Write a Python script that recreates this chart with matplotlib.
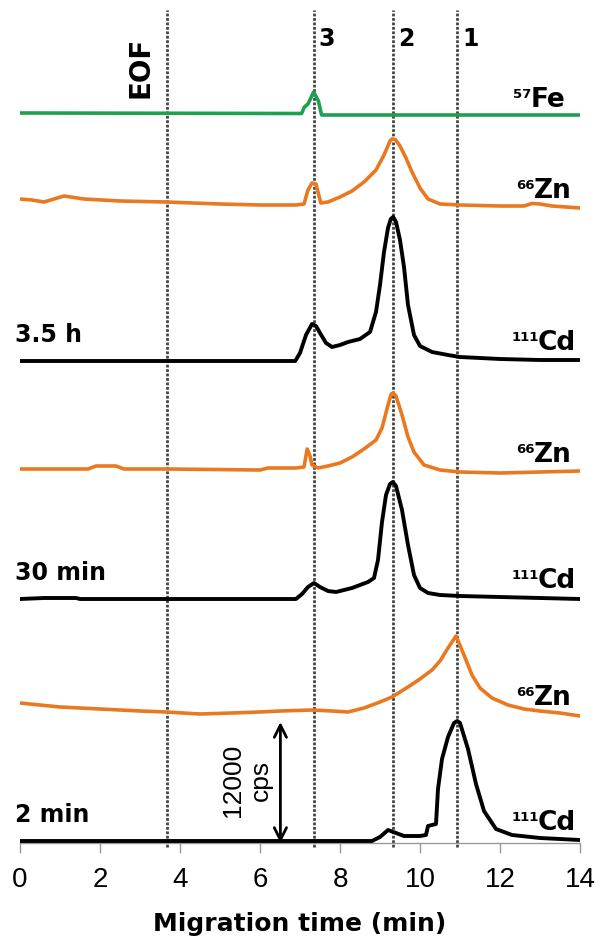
import matplotlib
matplotlib.use("Agg")
import matplotlib.pyplot as plt

# traces: migration time (min) and signal above own baseline (cps)
fe57_t = [0, 7.04, 7.11, 7.2, 7.34, 7.46, 7.54, 14]
fe57_cps = [0, -50, 600, 900, 2100, 1200, -200, -200]

zn_35h_t = [0, 0.3, 0.6, 1.1, 1.6, 2.5, 3.65, 5, 6, 6.9, 7.1, 7.2, 7.3, 7.4, 7.52, 7.7, 8.0,
            8.3, 8.6, 8.9, 9.1, 9.25, 9.3, 9.38, 9.5, 9.65, 9.8, 10.0, 10.2, 10.5, 11, 12,
            12.6, 12.8, 13.0, 13.3, 14]
zn_35h_cps = [600, 500, 300, 900, 600, 400, 300, 100, 0, 0, 100, 1500, 2200, 2100, 200, 300,
              800, 1400, 2300, 3500, 5000, 6400, 6600, 6550, 5900, 4700, 3300, 1700, 600, 100,
              0, -100, -100, 150, 100, -100, -300]

cd_35h_t = [0, 6.88, 7.0, 7.15, 7.3, 7.4, 7.5, 7.65, 7.8, 8.0, 8.2, 8.5, 8.75, 8.9, 9.0, 9.1,
            9.2, 9.27, 9.33, 9.4, 9.5, 9.6, 9.7, 9.85, 10.0, 10.3, 10.7, 11.0, 11.5, 12, 13, 14]
cd_35h_cps = [0, 0, 800, 2600, 3700, 3500, 2800, 1800, 1400, 1600, 1900, 2200, 2900, 4900,
              7600, 10900, 13300, 14200, 14400, 13900, 12100, 9400, 5600, 2600, 1500, 900,
              600, 400, 300, 200, 100, 100]

zn_30m_t = [0, 1.7, 1.9, 2.4, 2.6, 3.65, 6, 6.2, 6.9, 7.1, 7.18, 7.25, 7.3, 7.45, 7.7, 8.0,
            8.3, 8.6, 8.9, 9.05, 9.2, 9.28, 9.33, 9.4, 9.55, 9.7, 9.85, 10.1, 10.5, 11, 12,
            13, 14]
zn_30m_cps = [0, 0, 300, 300, 0, 0, -100, 100, 100, 200, 2000, 1300, 400, 100, 300, 600,
              1200, 2000, 2900, 4100, 6400, 7500, 7600, 7300, 5400, 3200, 1700, 400, -100,
              -300, -400, -300, -200]

cd_30m_t = [0, 0.6, 1.4, 1.5, 6.9, 7.05, 7.2, 7.35, 7.5, 7.7, 7.9, 8.3, 8.7, 8.85, 8.95, 9.05,
            9.15, 9.25, 9.32, 9.4, 9.55, 9.7, 9.85, 10.0, 10.2, 10.5, 11, 12, 13, 14]
cd_30m_cps = [0, 100, 100, 0, 0, 500, 1200, 1600, 1200, 800, 700, 1100, 1700, 2100, 3900,
              7700, 10400, 11500, 11700, 11300, 8900, 5400, 2400, 1100, 600, 400, 300, 200,
              100, 0]

zn_2m_t = [0, 0.5, 1, 2, 3, 3.65, 4.5, 5.3, 6, 6.5, 7.3, 7.8, 8.2, 8.6, 9.0, 9.3, 9.7, 10.0,
           10.3, 10.5, 10.7, 10.9, 11.1, 11.3, 11.5, 11.8, 12.2, 12.6, 13, 13.5, 14]
zn_2m_cps = [900, 700, 500, 300, 100, 0, -200, -100, 0, 100, 200, 100, 0, 400, 1000, 1500,
             2500, 3300, 4200, 5100, 6400, 7600, 5700, 3700, 2400, 1400, 700, 300, 100, -100,
             -400]

cd_2m_t = [0, 8.8, 9.0, 9.2, 9.4, 9.6, 10.0, 10.15, 10.2, 10.4, 10.45, 10.55, 10.7, 10.85,
           10.93, 11.0, 11.2, 11.4, 11.6, 11.9, 12.3, 13, 14]
cd_2m_cps = [0, 0, 400, 1100, 800, 500, 500, 600, 1500, 1700, 5200, 8200, 10400, 11800, 12000,
             11800, 9200, 5700, 3000, 1200, 600, 300, 100]

traces = [
    (fe57_t, fe57_cps, "57", "Fe"),
    (zn_35h_t, zn_35h_cps, "66", "Zn"),
    (cd_35h_t, cd_35h_cps, "111", "Cd"),
    (zn_30m_t, zn_30m_cps, "66", "Zn"),
    (cd_30m_t, cd_30m_cps, "111", "Cd"),
    (zn_2m_t, zn_2m_cps, "66", "Zn"),
    (cd_2m_t, cd_2m_cps, "111", "Cd"),
]
offsets = [73000, 63800, 48200, 37400, 24400, 13100, 200]

time_labels = ["3.5 h", "30 min", "2 min"]
peak_times = [3.67, 7.34, 9.33, 10.93]
peak_names = ["EOF", "3", "2", "1"]
scale_bar = 12000

colors = {"Fe": "#1da14f", "Zn": "#e9781f", "Cd": "black"}

fig = plt.figure(figsize=(6, 9.44), dpi=100)
ax = fig.add_axes([20 / 600, 101 / 944, 560 / 600, 843 / 944])
ax.set_xlim(0, 14)
ax.set_ylim(0, 84300)

labels = []
for (t, s, mass, el), off in zip(traces, offsets):
    y = [v + off for v in s]
    ax.plot(t, y, color=colors[el], lw=2.8 if el == "Cd" else 2.6,
            solid_capstyle="round", solid_joinstyle="round", zorder=3)
    ly = off + (1100 if el == "Cd" else (600 if el == "Fe" else 700))
    lx = {"Fe": 13.63, "Zn": 13.78, "Cd": 13.9}[el]
    main = ax.text(lx, ly, el, ha="right", va="baseline", fontsize=19,
                   fontweight="bold", family="DejaVu Sans", zorder=4)
    labels.append((main, lx, ly, mass))

# time labels sit on the Cd traces
for lab, off in zip(time_labels, [offsets[2], offsets[4], offsets[6]]):
    ax.text(-0.12, off + 1900, lab, ha="left", va="baseline", fontsize=17,
            fontweight="bold", family="DejaVu Sans")

for pt, name in zip(peak_times, peak_names):
    ax.vlines(pt, -400, 83300, colors="#444444", lw=2,
              linestyles=(0, (1, 0.6)), zorder=2, clip_on=False)
    if name == "EOF":
        ax.text(pt - 0.65, 77550, name, rotation=90, ha="center", va="center",
                fontsize=20, fontweight="bold", family="DejaVu Sans")
    else:
        ax.text(pt + 0.13, 80450, name, ha="left", va="center", fontsize=17,
                fontweight="bold", family="DejaVu Sans")

# scale bar
ax.annotate("", xy=(6.51, 12100), xytext=(6.51, 0),
            arrowprops=dict(arrowstyle="<->", lw=2, color="black",
                            mutation_scale=22, shrinkA=0, shrinkB=0))
ax.text(5.67, 6300, f"{scale_bar}\ncps", rotation=90, ha="center", va="center",
        fontsize=19, family="Liberation Sans", linespacing=1.2)

for side in ["left", "right", "top"]:
    ax.spines[side].set_visible(False)
ax.spines["bottom"].set_color("#999999")
ax.spines["bottom"].set_linewidth(1)
ax.set_yticks([])
ax.set_xticks(range(0, 15, 2))
ax.tick_params(axis="x", direction="out", length=7, width=1, color="#999999",
               pad=10, labelsize=20)
for lbl in ax.get_xticklabels():
    lbl.set_family("Liberation Sans")

fig.text(0.5, 13 / 944, "Migration time (min)", ha="center", va="baseline",
         fontsize=18, fontweight="bold", family="DejaVu Sans")

# mass-number superscripts: placed after layout, top aligned with cap height
fig.canvas.draw()
renderer = fig.canvas.get_renderer()
W, H = fig.bbox.width, fig.bbox.height
cap_px = 0.729 * 19 * fig.dpi / 72
for main, lx, ly, mass in labels:
    bb = main.get_window_extent(renderer)
    base_y = ax.transData.transform((lx, ly))[1]
    fig.text((bb.x0 + 1) / W, (base_y + cap_px) / H, mass, ha="right", va="top",
             fontsize=9.5, fontweight="bold", family="DejaVu Sans")

plt.savefig("out.png", dpi=100)
